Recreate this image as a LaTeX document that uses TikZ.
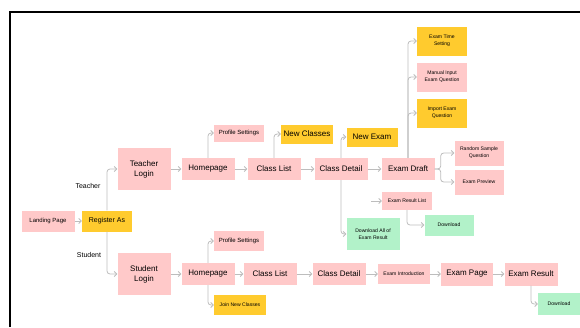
\documentclass[tikz,border=0pt]{standalone}
\usepackage{fontspec}
\setmainfont{Liberation Sans}
\usetikzlibrary{arrows.meta}
\definecolor{boxpink}{HTML}{FFC9C9}
\definecolor{boxgold}{HTML}{FFCB2E}
\definecolor{boxgreen}{HTML}{B2F2C9}
\definecolor{linkgray}{HTML}{BDBDBD}
\begin{document}
\begin{tikzpicture}[x=1pt,y=-1pt,
    box/.style={inner sep=1pt,align=center,minimum width=53pt,minimum height=22pt},
    pinkbox/.style={box,fill=boxpink},
    goldbox/.style={box,fill=boxgold},
    greenbox/.style={box,fill=boxgreen},
    big/.style={font=\fontsize{8}{10}\selectfont},
    mid/.style={font=\fontsize{6}{7}\selectfont},
    tiny/.style={font=\fontsize{5.1}{7}\selectfont},
    link/.style={draw=linkgray,thick,rounded corners=3pt,-{Straight Barb[length=2.5pt,width=5pt]}},
    side/.style={font=\fontsize{7}{8}\selectfont}]
  \useasboundingbox (0,0) rectangle (580,327);
  \draw[line width=1.6pt] (10,327) -- (10,12) -- (580,12); % frame
  % start
  \node[pinkbox,mid,minimum height=21pt] (land) at (48,221) {Landing Page};
  \node[goldbox,font=\fontsize{7}{8}\selectfont,minimum width=50pt,minimum height=21pt] (reg) at (107,221) {Register As};
  \node[pinkbox,big,minimum height=42pt] (tlog) at (144,169) {Teacher\\Login};
  \node[pinkbox,big,minimum height=42pt] (slog) at (144,274) {Student\\Login};
  \node[side] (tlab) at (88,186) {Teacher};
  \node[side] (slab) at (89,255) {Student};
  % teacher row
  \node[pinkbox,big] (thome) at (208,169) {Homepage};
  \node[pinkbox,mid,minimum width=50pt,minimum height=17pt] (tprof) at (239,133) {Profile Settings};
  \node[pinkbox,big] (tlist) at (274,169) {Class List};
  \node[goldbox,big,minimum width=52pt,minimum height=19pt] (newcls) at (307,134) {New Classes};
  \node[pinkbox,big] (tdet) at (341,169) {Class Detail};
  \node[goldbox,big,minimum width=51pt,minimum height=19pt] (newexam) at (372,137) {New Exam};
  \node[pinkbox,big] (draft) at (408,169) {Exam Draft};
  \node[goldbox,tiny,minimum width=50pt,minimum height=29pt] (etime) at (442,41) {Exam Time\\Setting};
  \node[pinkbox,tiny,minimum width=50pt,minimum height=29pt] (manual) at (442,77) {Manual Input\\Exam Question};
  \node[goldbox,tiny,minimum width=50pt,minimum height=29pt] (import) at (442,113) {Import Exam\\Question};
  \node[pinkbox,tiny,minimum width=49pt,minimum height=25pt] (sample) at (479,153) {Random Sample\\Question};
  \node[pinkbox,tiny,minimum width=49pt,minimum height=25pt] (preview) at (479,182) {Exam Preview};
  \node[pinkbox,tiny,minimum width=50pt,minimum height=18pt] (rlist) at (407,201) {Exam Result List};
  \node[greenbox,tiny,minimum width=49pt,minimum height=21pt] (tdown) at (449,225) {Download};
  \node[greenbox,tiny,minimum height=32pt] (dall) at (373,234) {Download All of\\Exam Result};
  \coordinate (rstart) at (371,201);
  % student row
  \node[pinkbox,big] (shome) at (208,274) {Homepage};
  \node[pinkbox,mid,minimum width=50pt,minimum height=20pt] (sprof) at (239,241) {Profile Settings};
  \node[goldbox,tiny,minimum width=52pt,minimum height=20pt] (join) at (240,305) {Join New Classes};
  \node[pinkbox,big] (slist) at (270,274) {Class List};
  \node[pinkbox,big] (sdet) at (339,274) {Class Detail};
  \node[pinkbox,tiny,minimum width=52pt,minimum height=20pt] (intro) at (404,274) {Exam Introduction};
  \node[pinkbox,big,minimum width=52pt,minimum height=23pt] (epage) at (467,274) {Exam Page};
  \node[pinkbox,big,minimum height=23pt] (eres) at (531,274) {Exam Result};
  \node[greenbox,tiny,minimum width=42pt,minimum height=22pt] (sdown) at (559,304) {Download};
  % connectors
  \draw[link] (land) -- (reg);
  \draw[link] (reg.north) |- (tlog.west);
  \draw[link] (reg.south) |- (slog.west);
  \draw[link] (tlog) -- (thome);
  \draw[link] (thome.north) |- (tprof.west);
  \draw[link] (thome) -- (tlist);
  \draw[link] (tlist.north) |- (newcls.west);
  \draw[link] (tlist) -- (tdet);
  \draw[link] (tdet.north) |- (newexam.west);
  \draw[link] (tdet.south) |- (dall.west);
  \draw[link] (tdet) -- (draft);
  \draw[link] (draft.north) |- (etime.west);
  \draw[link] (draft.north) |- (manual.west);
  \draw[link] (draft.north) |- (import.west);
  \draw[link] (draft.east) -- ++(6,0) |- (sample.west);
  \draw[link] (draft.east) -- ++(6,0) |- (preview.west);
  \draw[link] (rstart) -- (rlist.west);
  \draw[link] (rlist.south) |- (tdown.west);
  \draw[link] (slog) -- (shome);
  \draw[link] (shome.north) |- (sprof.west);
  \draw[link] (shome.south) |- (join.west);
  \draw[link] (shome) -- (slist);
  \draw[link] (slist) -- (sdet);
  \draw[link] (sdet) -- (intro);
  \draw[link] (intro) -- (epage);
  \draw[link] (epage) -- (eres);
  \draw[link] (eres.south) |- (sdown.west);
\end{tikzpicture}
\end{document}
